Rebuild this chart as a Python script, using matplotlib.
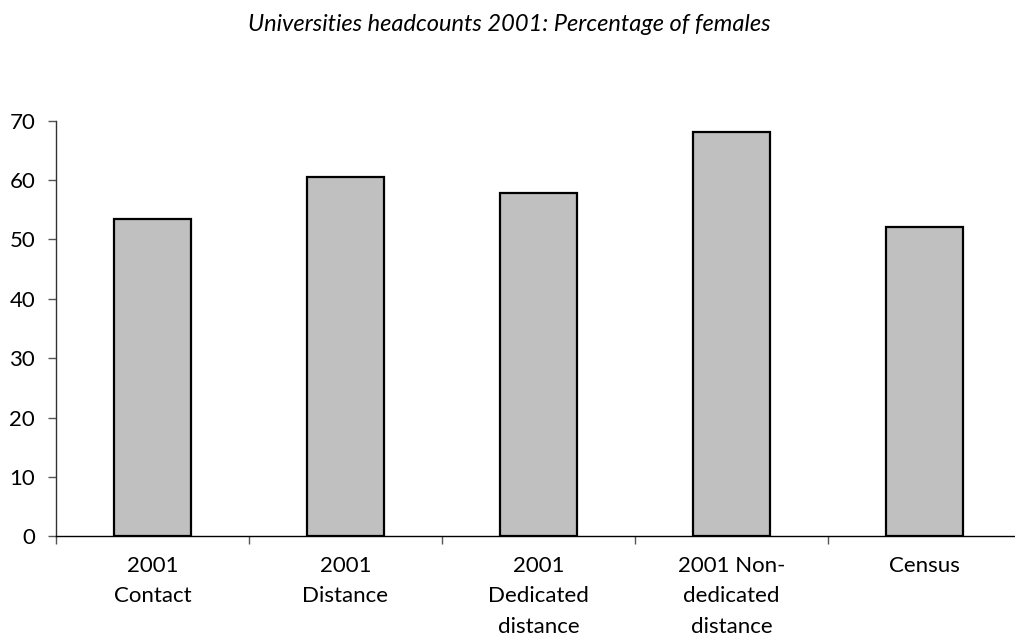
import matplotlib
matplotlib.use("Agg")
import matplotlib.pyplot as plt
from matplotlib.ticker import FixedLocator

plt.rcParams['font.family'] = ['Lato', 'DejaVu Sans']

title = "Universities headcounts 2001: Percentage of females"
categories = ["2001\nContact", "2001\nDistance", "2001\nDedicated\ndistance",
              "2001 Non-\ndedicated\ndistance", "Census"]
female_pct = [53.4, 60.6, 57.9, 68.1, 52.1]
y_ticks = [0, 10, 20, 30, 40, 50, 60, 70]

W, H = 1015, 641
fig = plt.figure(figsize=(W / 100, H / 100), dpi=100)
ax = fig.add_axes([56 / W, (H - 536.3) / H, 965 / W, 415.6 / H])

x = list(range(len(categories)))
ax.bar(x, female_pct, width=0.4, color="#c0c0c0", edgecolor="black",
       linewidth=1.6, zorder=3)

ax.set_xlim(-0.5, len(categories) - 0.5)
ax.set_ylim(0, 70)
ax.set_yticks(y_ticks)
ax.set_yticklabels([str(t) for t in y_ticks], fontsize=16)

ax.set_xticks(x)
ax.set_xticklabels(categories, fontsize=16, linespacing=1.66)
ax.xaxis.set_minor_locator(FixedLocator([i - 0.5 for i in range(len(categories) + 1)]))
ax.tick_params(axis="x", which="major", length=0, pad=14)
ax.tick_params(axis="x", which="minor", length=6, width=1, color="#555555", direction="out")
ax.tick_params(axis="y", length=6, width=1, color="#555555", direction="out", pad=9)

for side in ("top", "right"):
    ax.spines[side].set_visible(False)
ax.spines["left"].set_color("#333333")
ax.spines["left"].set_linewidth(1.0)
ax.spines["bottom"].set_color("black")
ax.spines["bottom"].set_linewidth(1.0)

fig.text(509 / W, 1 - 31 / H, title, ha="center", va="baseline",
         fontsize=17, style="italic")

fig.savefig("out.png", dpi=100)
